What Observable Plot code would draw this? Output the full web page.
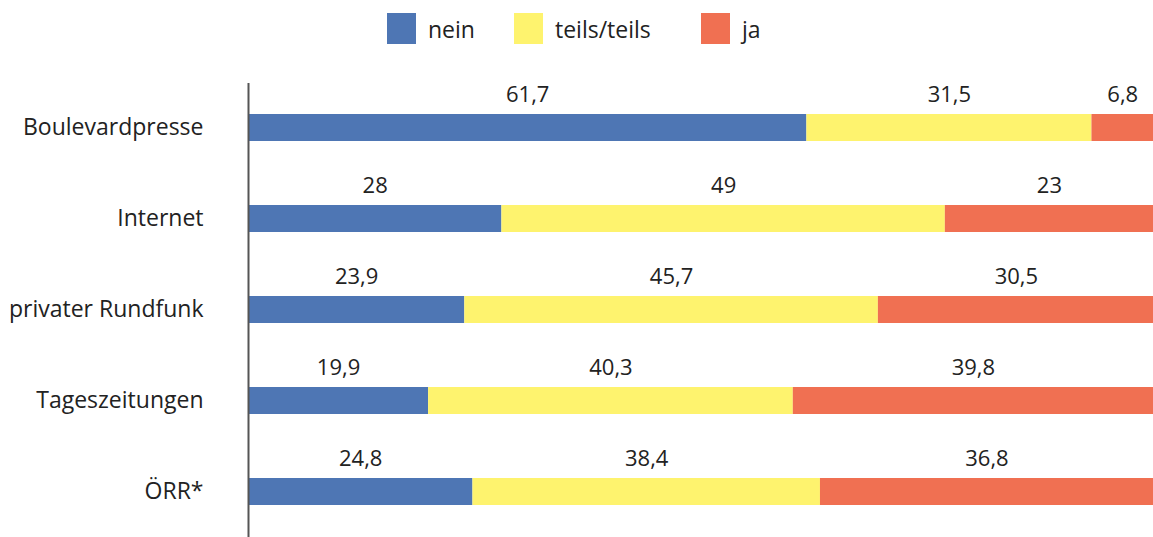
<!DOCTYPE html>
<html>
<head>
<meta charset="utf-8">
<script src="https://cdn.jsdelivr.net/npm/d3@7"></script>
<script src="https://cdn.jsdelivr.net/npm/@observablehq/plot@0.6"></script>
<style>
  html, body { margin: 0; padding: 0; background: #fff; }
  body { width: 1153px; height: 537px; overflow: hidden; font-family: "Open Sans", sans-serif; color: #222; }
  #legend { height: 60px; position: relative; }
  .item { position: absolute; top: 13px; display: flex; align-items: center; font-size: 23px; height: 31px; }
  .sw { width: 29px; height: 31px; margin-right: 12px; }
</style>
</head>
<body>
<div id="legend"></div>
<div id="chart"></div>
<script>
const categories = ["Boulevardpresse", "Internet", "privater Rundfunk", "Tageszeitungen", "ÖRR*"];
const answers = ["nein", "teils/teils", "ja"];
const colors = ["#4e76b4", "#fef36e", "#f07052"];
const nein = [61.7, 28, 23.9, 19.9, 24.8];
const teils = [31.5, 49, 45.7, 40.3, 38.4];
const ja = [6.8, 23, 30.5, 39.8, 36.8];

const series = [nein, teils, ja];
const data = [];
categories.forEach((c, i) => {
  answers.forEach((a, j) => data.push({medium: c, answer: a, value: series[j][i]}));
});

const legendLeft = [387, 514, 701];
const legend = document.getElementById("legend");
answers.forEach((a, j) => {
  const it = document.createElement("div");
  it.className = "item";
  it.style.left = legendLeft[j] + "px";
  const sw = document.createElement("div");
  sw.className = "sw";
  sw.style.background = colors[j];
  const t = document.createElement("span");
  t.textContent = a;
  it.append(sw, t);
  legend.append(it);
});

const fmt = v => String(v).replace(".", ",");

const plot = Plot.plot({
  width: 1153,
  height: 477,
  marginLeft: 248,
  marginRight: 0,
  marginTop: 23,
  marginBottom: 0,
  style: {fontFamily: "Open Sans, sans-serif", fontSize: "22px", color: "#222", background: "#fff"},
  x: {domain: [0, 100], axis: null},
  y: {domain: categories, paddingInner: 0.7, paddingOuter: 0.34, label: null, tickSize: 0, tickPadding: 45},
  color: {domain: answers, range: colors},
  marks: [
    Plot.barX(data, Plot.stackX({x: "value", y: "medium", fill: "answer", z: "answer", order: answers})),
    Plot.text(data, Plot.stackX({x: "value", y: "medium", z: "answer", order: answers, text: d => fmt(d.value), dy: -33, fill: "#222", fontSize: 22})),
    Plot.ruleX([0], {stroke: "#555", strokeWidth: 2}),
    Plot.axisY({tickSize: 0, tickPadding: 45, fontSize: 23, fill: "#222"})
  ]
});
document.getElementById("chart").append(plot);
</script>
</body>
</html>
